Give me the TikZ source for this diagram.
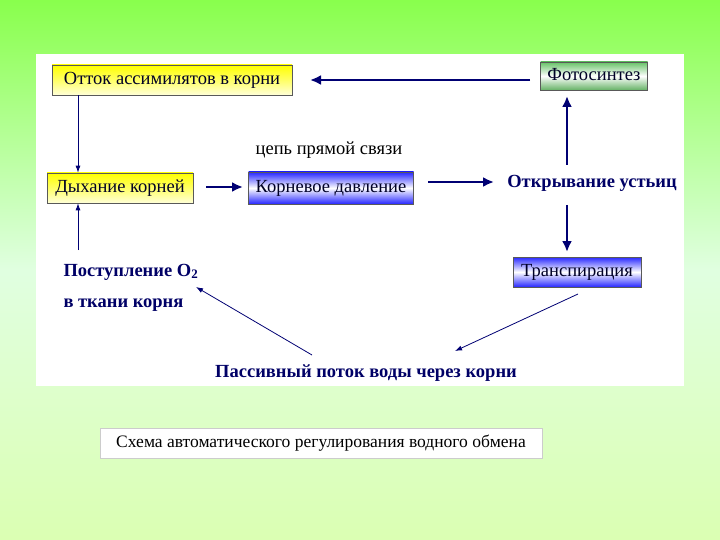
\documentclass[tikz,border=0pt]{standalone}
\usepackage{fontspec}
\setmainfont{Liberation Serif}
\usetikzlibrary{arrows.meta}
\begin{document}
\begin{tikzpicture}[x=1pt,y=-1pt,
 box/.style={draw=gray!70!black,line width=0.6pt,inner sep=0pt,minimum height=30pt,text height=13pt,text depth=4pt,font=\fontsize{18.5}{20}\selectfont,text=black!85!blue},
 ybox/.style={box,top color=yellow,bottom color=yellow!15,middle color=yellow!60},
 gbox/.style={box,top color=green!60!black!60,bottom color=green!50!black!60,middle color=white},
 bbox/.style={box,top color=blue!85,bottom color=blue!85,middle color=white},
 btxt/.style={font=\bfseries\fontsize{18.5}{20}\selectfont,text=blue!40!black},
 thk/.style={-{Latex[length=11pt,width=10pt]},line width=2.2pt,draw=blue!45!black},
 thn/.style={-{Latex[length=7pt,width=5pt]},line width=0.8pt,draw=blue!45!black}]
\shade[top color=green!55!lime!70,bottom color=green!30!lime!30,middle color=green!12] (0,0) rectangle (720,540);
\fill[white] (36,54) rectangle (684,386);
\node[ybox,minimum width=240pt] (ot) at (172,80) {Отток ассимилятов в корни};
\node[gbox,minimum width=107pt,minimum height=28pt] (fo) at (594,76) {Фотосинтез};
\node[ybox,minimum width=146pt] (dy) at (120,188) {Дыхание корней};
\node[bbox,minimum width=165pt,minimum height=32pt] (ko) at (331,188) {Корневое давление};
\node[btxt] (op) at (592,183) {Открывание устьиц};
\node[font=\fontsize{18.5}{20}\selectfont] (ts) at (329,150) {цепь прямой связи};
\node[bbox,minimum width=128pt] (tr) at (577,272) {Транспирация};
\node[btxt,anchor=west] (po) at (60,272) {Поступление O\textsubscript{2}};
\node[btxt,anchor=west] (vt) at (60,305) {в ткани корня};
\node[btxt] (pa) at (366,373) {Пассивный поток воды через корни};
\coordinate (c1) at (78,250);
\coordinate (p1) at (530,80); \coordinate (p2) at (310,80);
\coordinate (p3) at (206,187); \coordinate (p4) at (243,187);
\coordinate (p5) at (428,182); \coordinate (p6) at (494,182);
\coordinate (p7) at (567,165); \coordinate (p8) at (567,96);
\coordinate (p9) at (567,205); \coordinate (p10) at (567,252);
\coordinate (p11) at (578,294); \coordinate (p12) at (455,351);
\coordinate (p13) at (312,355); \coordinate (p14) at (196,287);
\draw[thk] (p1) -- (p2);
\draw[thn] (ot.south-|c1) -- (dy.north-|c1);
\draw[thn] (c1) -- (dy.south-|c1);
\draw[thk] (p3) -- (p4);
\draw[thk] (p5) -- (p6);
\draw[thk] (p7) -- (p8);
\draw[thk] (p9) -- (p10);
\draw[thn] (p11) -- (p12);
\draw[thn] (p13) -- (p14);
\node[fill=white,draw=gray!40,line width=0.4pt,minimum width=442pt,minimum height=30pt,font=\fontsize{17.5}{19}\selectfont] (cap) at (321,443) {Схема автоматического регулирования водного обмена};
\end{tikzpicture}
\end{document}
